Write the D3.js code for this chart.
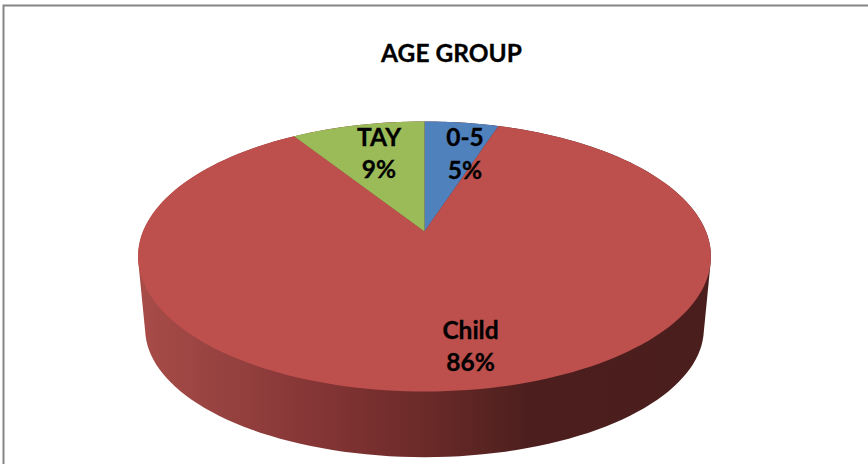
<!DOCTYPE html>
<html><head><meta charset="utf-8">
<script src="https://cdn.jsdelivr.net/npm/d3@7/dist/d3.min.js"></script>
<style>html,body{margin:0;padding:0;background:#fff}svg{display:block}</style>
</head><body><div id="c"></div>
<script>
const titleText = "AGE GROUP";
const categories = ["0-5", "Child", "TAY"];
const percents = [5, 86, 9];
const colors = ["#4f81bd", "#bd4f4c", "#9bbb59"];

const W = 868, H = 464;
const svg = d3.select("#c").append("svg").attr("width", W).attr("height", H)
  .style("font-family", "Lato, 'Open Sans', sans-serif");

// perspective projection of the unit disc
const k = 0.185, upper = {ax:424.5, ay:231.5, rx:281.5, ry:130.4};
const lower = {ax:424.5, ay:305, rx:274.5, ry:124};
const project = (p, r, a) => {
  const u = r*Math.sin(a), v = r*Math.cos(a), d = 1 + k*v;
  return [p.ax + p.rx*u/d, p.ay - p.ry*v/d];
};
const ring = (p, a0, a1) => d3.range(0, 181).map(i => project(p, 1, a0 + (a1-a0)*i/180));

const pie = d3.pie().sort(null)(percents);

// frame
svg.append("path").attr("d", `M3.5,${H}V5.5H${W}`).attr("fill","none").attr("stroke","#858585").attr("stroke-width",2);

// side wall
const defs = svg.append("defs");
const grad = defs.append("linearGradient").attr("id","side").attr("gradientUnits","userSpaceOnUse")
  .attr("x1",138).attr("x2",711).attr("y1",0).attr("y2",0);
[[0,"#a84c48"],[0.15,"#964240"],[0.3,"#863636"],[0.5,"#6b2a28"],[0.68,"#4c1f1e"],[1,"#4a1e1d"]]
  .forEach(s => grad.append("stop").attr("offset",s[0]).attr("stop-color",s[1]));
const hull = d3.polygonHull(ring(upper,0,2*Math.PI).concat(ring(lower,0,2*Math.PI)));
svg.append("path").attr("d", d3.line().curve(d3.curveLinearClosed)(hull)).attr("fill","url(#side)");

// top slices
svg.selectAll("path.slice").data(pie).join("path").attr("class","slice")
  .attr("d", d => {
    const pts = [[upper.ax, upper.ay]].concat(ring(upper, d.startAngle, d.endAngle));
    return d3.line().curve(d3.curveLinearClosed)(pts);
  })
  .attr("fill", (d,i) => colors[i]);

// title
svg.append("text").attr("x",451.5).attr("y",62).attr("text-anchor","middle")
  .attr("font-size",24.5).attr("font-weight",700).attr("fill","#000")
  .attr("stroke","#000").attr("stroke-width",0.3).text(titleText);

// labels
const labelAt = [[465,146,179],[470.5,339,371],[379,146,178]];
categories.forEach((c,i) => {
  const [x,y1,y2] = labelAt[i];
  [[c,y1],[percents[i]+"%",y2]].forEach(([t,y]) => {
    svg.append("text").attr("x",x).attr("y",y).attr("text-anchor","middle")
      .attr("font-size",24.5).attr("font-weight",700)
      .attr("stroke","#000").attr("stroke-width",0.3).text(t);
  });
});
</script></body></html>
